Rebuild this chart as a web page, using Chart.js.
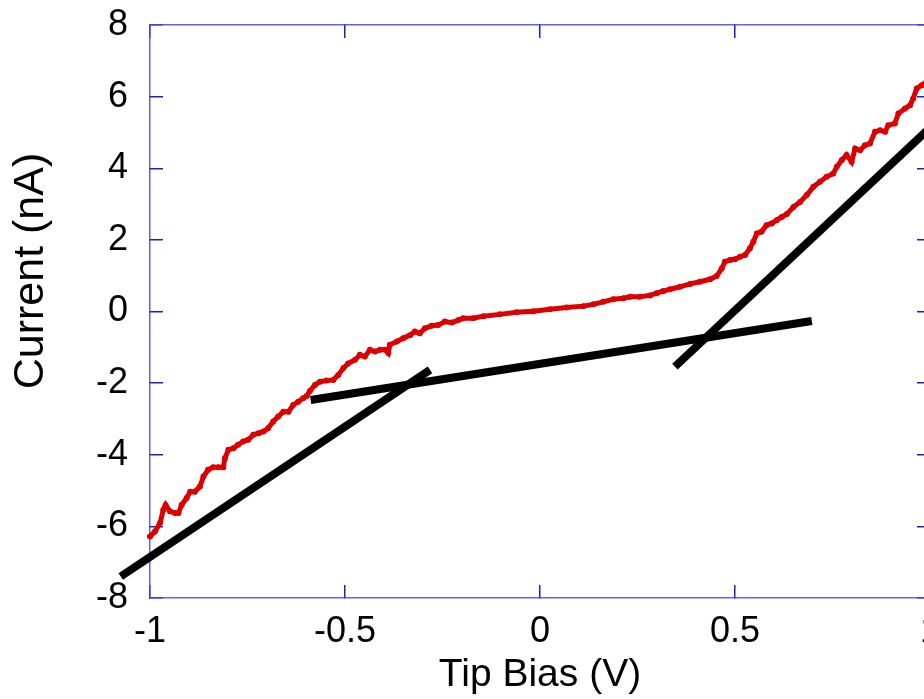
<!DOCTYPE html>
<html>
<head>
<meta charset="utf-8">
<script src="https://cdn.jsdelivr.net/npm/chart.js@4.4.0/dist/chart.umd.min.js"></script>
<style>
html, body { margin: 0; padding: 0; background: #fff; overflow: hidden; }
#wrap { width: 960px; height: 699px; }
</style>
</head>
<body>
<div id="wrap"><canvas id="ivChart" width="960" height="699"></canvas></div>
<script>
// measured I-V curve : tip bias (V) -> current (nA)
const biasV = [
  -1.000, -0.987, -0.974, -0.966, -0.960, -0.949, -0.936, -0.927, -0.919, -0.906,
  -0.897, -0.885, -0.872, -0.863, -0.851, -0.838, -0.825, -0.812, -0.808, -0.799,
  -0.786, -0.774, -0.761, -0.748, -0.735, -0.722, -0.709, -0.697, -0.684, -0.671,
  -0.658, -0.645, -0.633, -0.620, -0.607, -0.598, -0.590, -0.577, -0.564, -0.547,
  -0.530, -0.517, -0.504, -0.492, -0.474, -0.462, -0.449, -0.436, -0.423, -0.410,
  -0.397, -0.389, -0.385, -0.367, -0.351, -0.333, -0.321, -0.308, -0.295, -0.278,
  -0.261, -0.244, -0.226, -0.209, -0.197, -0.171, -0.145, -0.103, -0.060, -0.017,
  0.026, 0.068, 0.111, 0.137, 0.162, 0.188, 0.214, 0.231, 0.256, 0.282,
  0.299, 0.316, 0.333, 0.359, 0.385, 0.410, 0.436, 0.453, 0.466, 0.474,
  0.487, 0.500, 0.513, 0.526, 0.538, 0.547, 0.556, 0.568, 0.581, 0.594,
  0.607, 0.620, 0.633, 0.650, 0.667, 0.684, 0.701, 0.718, 0.735, 0.752,
  0.761, 0.774, 0.786, 0.799, 0.808, 0.821, 0.833, 0.846, 0.859, 0.872,
  0.885, 0.893, 0.910, 0.919, 0.936, 0.949, 0.957, 0.966, 0.979, 0.990
];
const currentNA = [
  -6.28, -6.14, -5.90, -5.54, -5.40, -5.58, -5.63, -5.63, -5.40, -5.21,
  -5.03, -5.03, -4.89, -4.61, -4.42, -4.35, -4.35, -4.35, -4.10, -3.86,
  -3.82, -3.72, -3.63, -3.58, -3.44, -3.40, -3.35, -3.26, -3.07, -2.93,
  -2.80, -2.80, -2.61, -2.52, -2.42, -2.36, -2.22, -2.05, -1.96, -1.93,
  -1.91, -1.77, -1.58, -1.45, -1.35, -1.21, -1.26, -1.07, -1.12, -1.07,
  -1.07, -1.16, -0.93, -0.84, -0.75, -0.66, -0.56, -0.61, -0.47, -0.40,
  -0.38, -0.28, -0.31, -0.24, -0.19, -0.19, -0.13, -0.08, -0.02, 0.01,
  0.06, 0.11, 0.15, 0.20, 0.27, 0.34, 0.37, 0.41, 0.41, 0.45,
  0.51, 0.57, 0.62, 0.69, 0.77, 0.83, 0.90, 0.99, 1.20, 1.39,
  1.44, 1.46, 1.53, 1.58, 1.76, 1.95, 2.18, 2.23, 2.41, 2.46,
  2.55, 2.64, 2.72, 2.92, 3.06, 3.25, 3.48, 3.62, 3.76, 3.85,
  4.04, 4.23, 4.37, 4.18, 4.55, 4.50, 4.64, 4.69, 5.02, 5.06,
  5.02, 5.20, 5.25, 5.53, 5.67, 5.76, 5.95, 6.23, 6.32, 6.40
];

// straight line fits (end points)
const fitNegX = [-1.075, -0.282];
const fitNegY = [-7.40, -1.63];
const fitMidX = [-0.588, 0.697];
const fitMidY = [-2.47, -0.265];
const fitPosX = [0.346, 1.0];
const fitPosY = [-1.54, 5.13];

const xTicks = [-1, -0.5, 0, 0.5, 1];
const yTicks = [-8, -6, -4, -2, 0, 2, 4, 6, 8];

function pts(xs, ys) {
    return xs.map((x, i) => ({ x: x, y: ys[i] }));
}

const frameColor = 'rgba(70, 70, 225, 0.85)';
const tickColor = '#1c1cd2';

// ticks point inwards, no grid inside the plot
function axisGrid() {
    return { drawOnChartArea: false, drawTicks: true, tickLength: -13, color: tickColor, lineWidth: 1.5 };
}
function axisBorder() {
    return { display: true, color: frameColor, width: 1.5 };
}

// y axis title drawn by hand, it sits a bit above the middle in the original
const yTitle = {
    id: 'yTitle',
    afterDraw(chart) {
        const c = chart.ctx;
        c.save();
        c.translate(43, 271);
        c.rotate(-Math.PI / 2);
        c.font = '43px "Liberation Sans", Arial, sans-serif';
        c.fillStyle = '#000';
        c.textAlign = 'center';
        c.textBaseline = 'alphabetic';
        c.fillText('Current (nA)', 0, 0);
        c.restore();
    }
};

const tickFont = { family: '"Liberation Sans", Arial, sans-serif', size: 36 };

const ctx = document.getElementById('ivChart').getContext('2d');
const ivChart = new Chart(ctx, {
    type: 'scatter',
    data: {
        datasets: [
            {
                data: pts(biasV, currentNA), showLine: true,
                borderColor: '#dd0000', borderWidth: 5,
                pointRadius: 3, pointBackgroundColor: '#dd0000', pointBorderWidth: 0,
                tension: 0, clip: false
            },
            { data: pts(fitNegX, fitNegY), showLine: true, borderColor: '#000', borderWidth: 8, pointRadius: 0, clip: false },
            { data: pts(fitMidX, fitMidY), showLine: true, borderColor: '#000', borderWidth: 8, pointRadius: 0, clip: false },
            { data: pts(fitPosX, fitPosY), showLine: true, borderColor: '#000', borderWidth: 8, pointRadius: 0, clip: false }
        ]
    },
    options: {
        responsive: false,
        animation: false,
        devicePixelRatio: 1,
        layout: { padding: 0 },
        plugins: { legend: { display: false }, tooltip: { enabled: false } },
        scales: {
            x: {
                type: 'linear', position: 'bottom', min: -1, max: 1,
                afterBuildTicks: s => { s.ticks = xTicks.map(v => ({ value: v })); },
                ticks: { font: tickFont, color: '#000', padding: 25, maxRotation: 0, autoSkip: false, callback: v => String(v) },
                grid: axisGrid(), border: axisBorder(),
                title: {
                    display: true, text: 'Tip Bias (V)', color: '#000',
                    font: { family: '"Liberation Sans", Arial, sans-serif', size: 39 },
                    padding: { top: 0, bottom: 0 }
                },
                afterFit: s => { s.height = 101; s.paddingLeft = 0; s.paddingRight = 0; }
            },
            x2: {
                type: 'linear', position: 'top', min: -1, max: 1,
                afterBuildTicks: s => { s.ticks = xTicks.map(v => ({ value: v })); },
                ticks: { display: false },
                grid: axisGrid(), border: axisBorder(),
                afterFit: s => { s.height = 25; s.paddingLeft = 0; s.paddingRight = 0; }
            },
            y: {
                type: 'linear', position: 'left', min: -8, max: 8,
                afterBuildTicks: s => { s.ticks = yTicks.map(v => ({ value: v })); },
                ticks: { font: tickFont, color: '#000', padding: 35, autoSkip: false, callback: v => String(v) },
                grid: axisGrid(), border: axisBorder(),
                afterFit: s => { s.width = 150; s.paddingTop = 0; s.paddingBottom = 0; }
            },
            y2: {
                type: 'linear', position: 'right', min: -8, max: 8,
                afterBuildTicks: s => { s.ticks = yTicks.map(v => ({ value: v })); },
                ticks: { display: false },
                grid: axisGrid(), border: axisBorder(),
                afterFit: s => { s.width = 30; s.paddingTop = 0; s.paddingBottom = 0; }
            }
        }
    },
    plugins: [yTitle]
});
</script>
</body>
</html>
